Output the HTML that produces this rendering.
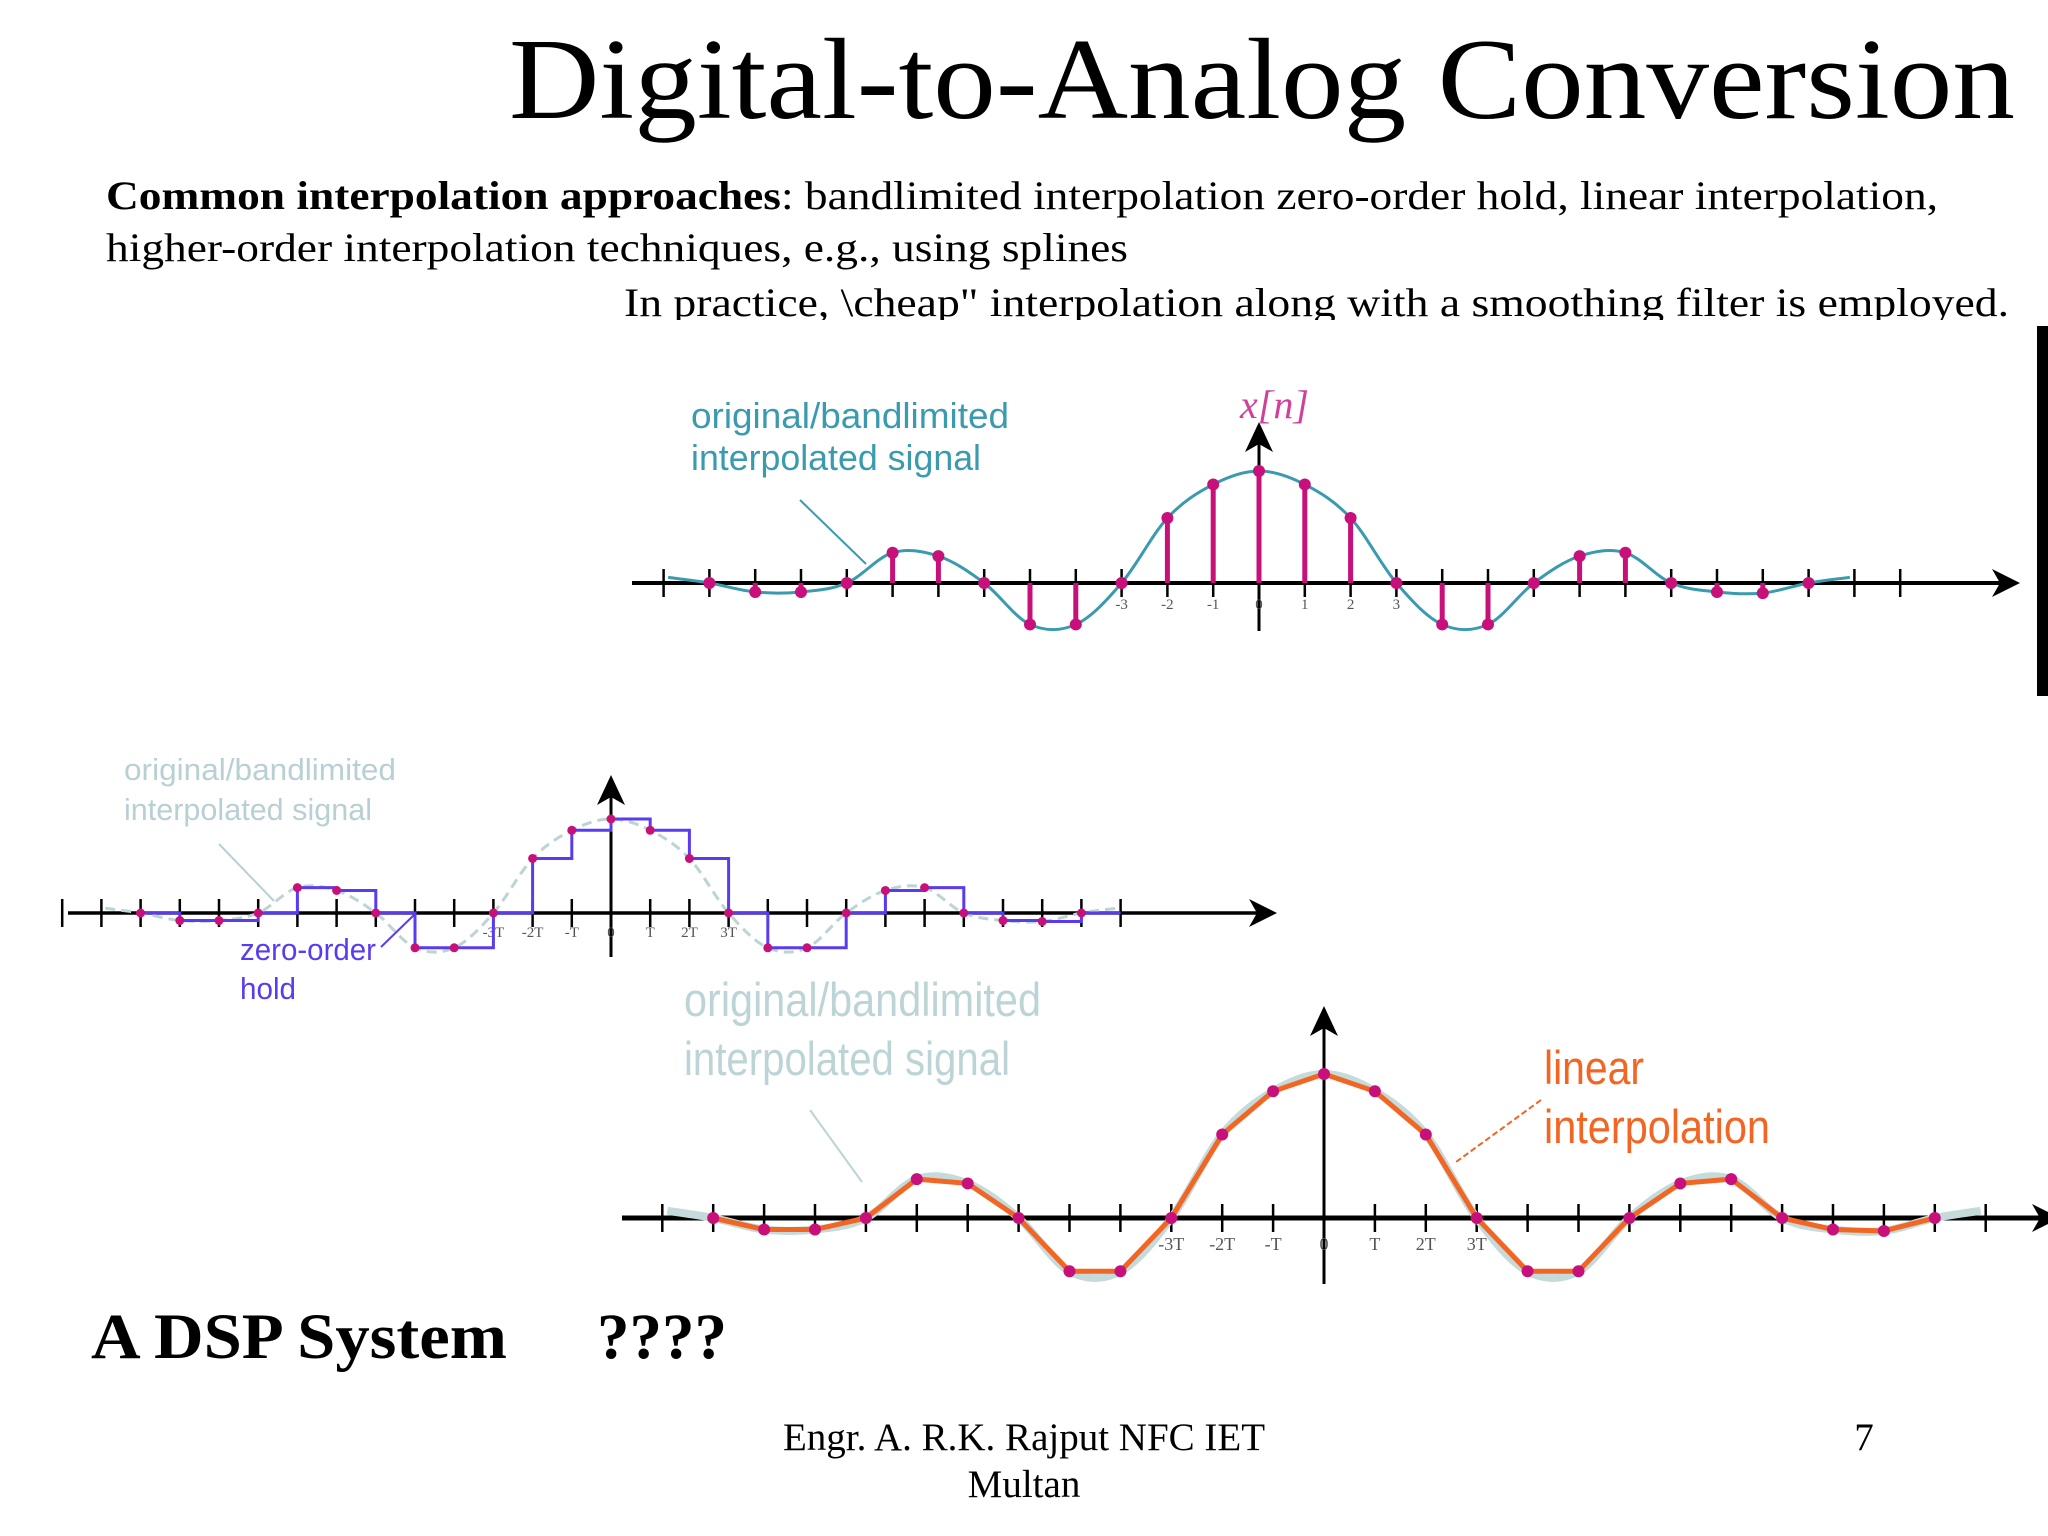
<!DOCTYPE html>
<html><head><meta charset="utf-8"><style>
html,body{margin:0;padding:0;background:#fff;}
svg{display:block;}
</style></head><body>
<svg id="s" width="2048" height="1536" viewBox="0 0 2048 1536" xmlns="http://www.w3.org/2000/svg">
<rect width="2048" height="1536" fill="#fff"/>
<text x="509" y="118" font-family="Liberation Serif, serif" font-size="115" textLength="1506" lengthAdjust="spacingAndGlyphs">Digital-to-Analog Conversion</text>
<g font-family="Liberation Serif, serif" font-size="40">
<text x="106" y="209" textLength="1832" lengthAdjust="spacingAndGlyphs"><tspan font-weight="bold">Common interpolation approaches</tspan>: bandlimited interpolation zero-order hold, linear interpolation,</text>
<text x="106" y="261" textLength="1022" lengthAdjust="spacingAndGlyphs">higher-order interpolation techniques, e.g., using splines</text>
<text x="624" y="316" textLength="1385" lengthAdjust="spacingAndGlyphs">In practice, \cheap" interpolation along with a smoothing  filter is employed.</text>
</g>
<rect x="600" y="320" width="1430" height="20" fill="#fff"/>
<rect x="2037" y="326" width="11" height="370" fill="#000"/>
<text x="91" y="1358" font-family="Liberation Serif, serif" font-size="65" font-weight="bold" textLength="416" lengthAdjust="spacingAndGlyphs">A DSP System</text>
<text x="597" y="1358" font-family="Liberation Serif, serif" font-size="65" font-weight="bold" textLength="130" lengthAdjust="spacingAndGlyphs">????</text>
<g font-family="Liberation Serif, serif" font-size="39">
<text x="1024" y="1450" text-anchor="middle">Engr. A. R.K. Rajput NFC IET</text>
<text x="1024" y="1497" text-anchor="middle">Multan</text>
<text x="1864" y="1450" text-anchor="middle">7</text>
</g>
<g id="charts"></g>
</svg>
<script>
const sampleIndex = [-12,-11,-10,-9,-8,-7,-6,-5,-4,-3,-2,-1,0,1,2,3,4,5,6,7,8,9,10,11,12];
const sampleValues = [0,-0.08,-0.08,0,0.27,0.24,0,-0.37,-0.37,0,0.58,0.88,1,0.88,0.58,0,-0.37,-0.37,0,0.24,0.27,0,-0.08,-0.09,0];
const tickLabels1 = ['-3','-2','-1','0','1','2','3'];
const tickLabels2 = ['-3T','-2T','-T','0','T','2T','3T'];
const NS='http://www.w3.org/2000/svg';
const root=document.getElementById('charts');
function mk(tag,attrs,parent){const e=document.createElementNS(NS,tag);for(const k in attrs)e.setAttribute(k,attrs[k]);(parent||root).appendChild(e);return e;}
function smoothPath(pts){
  let d='M'+pts[0][0]+','+pts[0][1];
  for(let i=0;i<pts.length-1;i++){
    const p0=pts[Math.max(0,i-1)],p1=pts[i],p2=pts[i+1],p3=pts[Math.min(pts.length-1,i+2)];
    const c1=[p1[0]+(p2[0]-p0[0])/6,p1[1]+(p2[1]-p0[1])/6];
    const c2=[p2[0]-(p3[0]-p1[0])/6,p2[1]-(p3[1]-p1[1])/6];
    d+=' C'+c1[0]+','+c1[1]+' '+c2[0]+','+c2[1]+' '+p2[0]+','+p2[1];
  }
  return d;
}
function panel(cfg){
  const g=mk('g',{});
  
  
  const X=n=>cfg.x0+n*cfg.dx, Y=v=>cfg.y0-v*cfg.sy;
  const ax=mk('line',{x1:cfg.ax1,y1:cfg.y0,x2:cfg.ax2-10,y2:cfg.y0,stroke:'#000','stroke-width':cfg.aw},g);
  
  
  const ah=mk('polygon',{points:`${cfg.ax2},${cfg.y0} ${cfg.ax2-28},${cfg.y0-14} ${cfg.ax2-20},${cfg.y0} ${cfg.ax2-28},${cfg.y0+14}`,fill:'#000'},g);
  
  
  const vy=mk('line',{x1:cfg.x0,y1:cfg.vTop+20,x2:cfg.x0,y2:cfg.vBot,stroke:'#000','stroke-width':3},g);
  
  
  const va=mk('polygon',{points:`${cfg.x0},${cfg.vTop} ${cfg.x0-14},${cfg.vTop+30} ${cfg.x0},${cfg.vTop+22} ${cfg.x0+14},${cfg.vTop+30}`,fill:'#000'},g);
  
  
  for(let n=cfg.t1;n<=cfg.t2;n++){
    const t=mk('line',{x1:X(n),y1:cfg.y0-14,x2:X(n),y2:cfg.y0+14,stroke:'#000','stroke-width':2.5},g);
    
    
  }
  cfg.labels.forEach((l,i)=>{
    const t=mk('text',{x:X(i-3),y:cfg.y0+cfg.ly,'text-anchor':'middle','font-family':'Liberation Serif, serif','font-size':cfg.lf,fill:'#555'},g);
    t.textContent=l;
    
    
  });
  const pts=sampleIndex.map((n,i)=>[X(n),Y(sampleValues[i])]);
  const ext=[[X(-12.9),Y(0.05)],...pts,[X(12.9),Y(0.05)]];
  const c=mk('path',{d:smoothPath(ext),fill:'none',stroke:cfg.curveColor,'stroke-width':cfg.cw,'stroke-dasharray':cfg.dash||'none'},g);
  
  
  if(cfg.type==='stem'){
    pts.forEach(p=>{
      const s=mk('line',{x1:p[0],y1:cfg.y0,x2:p[0],y2:p[1],stroke:'#c8107a','stroke-width':5},g);
      
      
    });
  }
  if(cfg.type==='zoh'){
    let d='';
    pts.forEach((p,i)=>{d+=(i?' L':'M')+p[0]+','+p[1]+' L'+(p[0]+cfg.dx)+','+p[1];});
    const z=mk('path',{d:d,fill:'none',stroke:'#5a3cf0','stroke-width':3},g);
    
    
  }
  if(cfg.type==='lin'){
    const z=mk('polyline',{points:pts.map(p=>p.join(',')).join(' '),fill:'none',stroke:'#f26522','stroke-width':5},g);
    
    
  }
  pts.forEach(p=>{
    const m=mk('circle',{cx:p[0],cy:p[1],r:cfg.mr,fill:'#c8107a'},g);
    
    
  });
}
panel({name:'bandlimited-chart',type:'stem',x0:1259,dx:45.8,y0:583,sy:112,ax1:632,ax2:2020,aw:4,vTop:422,vBot:631,t1:-13,t2:14,labels:tickLabels1,ly:26,lf:15,curveColor:'#3a9aae',cw:3,mr:6});
panel({name:'zero-order-hold-chart',type:'zoh',x0:611,dx:39.2,y0:913,sy:94,ax1:68,ax2:1277,aw:3.5,vTop:775,vBot:957,t1:-14,t2:13,labels:tickLabels2,ly:24,lf:15,curveColor:'#bcd4d6',cw:3,dash:'10,6',mr:4.5});
panel({name:'linear-interpolation-chart',type:'lin',x0:1324,dx:50.9,y0:1218,sy:144,ax1:622,ax2:2060,aw:5,vTop:1006,vBot:1284,t1:-13,t2:13,labels:tickLabels2,ly:32,lf:18,curveColor:'#c4dadb',cw:8,mr:6});
function label(txt,x,y,size,color,len,name){
  const t=mk('text',{x:x,y:y,'font-family':'Liberation Sans, sans-serif','font-size':size,fill:color,textLength:len,lengthAdjust:'spacingAndGlyphs'});
  t.textContent=txt;
  
  
}
function pointer(x1,y1,x2,y2,color,name){
  const l=mk('line',{x1:x1,y1:y1,x2:x2,y2:y2,stroke:color,'stroke-width':2});
  
  
}
label('original/bandlimited',691,428,36,'#3a9aae',318,'bandlimited-label-line1');
label('interpolated signal',691,470,36,'#3a9aae',290,'bandlimited-label-line2');
pointer(800,500,866,564,'#3a9aae','bandlimited-pointer');
const xn=mk('text',{x:1240,y:418,'font-family':'Liberation Serif, serif','font-size':40,'font-style':'italic',fill:'#d0409a'});
xn.textContent='x[n]';


label('original/bandlimited',124,780,31,'#b8d0d4',272,'zoh-bandlimited-label-line1');
label('interpolated signal',124,820,31,'#b8d0d4',248,'zoh-bandlimited-label-line2');
pointer(219,844,274,901,'#b8d0d4','zoh-bandlimited-pointer');
label('zero-order',240,960,31,'#5a3cf0',136,'zero-order-hold-label-line1');
label('hold',240,999,31,'#5a3cf0',56,'zero-order-hold-label-line2');
pointer(381,947,415,914,'#5a3cf0','zero-order-hold-pointer');
label('original/bandlimited',684,1016,47,'#bcd4d6',357,'linear-bandlimited-label-line1');
label('interpolated signal',684,1075,47,'#bcd4d6',326,'linear-bandlimited-label-line2');
pointer(810,1110,862,1182,'#bcd4d6','linear-bandlimited-pointer');
label('linear',1544,1084,47,'#f26522',100,'linear-label-line1');
label('interpolation',1544,1143,47,'#f26522',226,'linear-label-line2');
const lp=mk('line',{x1:1541,y1:1100,x2:1456,y2:1162,stroke:'#f26522','stroke-width':2,'stroke-dasharray':'6,3'});


</script>
</body></html>
